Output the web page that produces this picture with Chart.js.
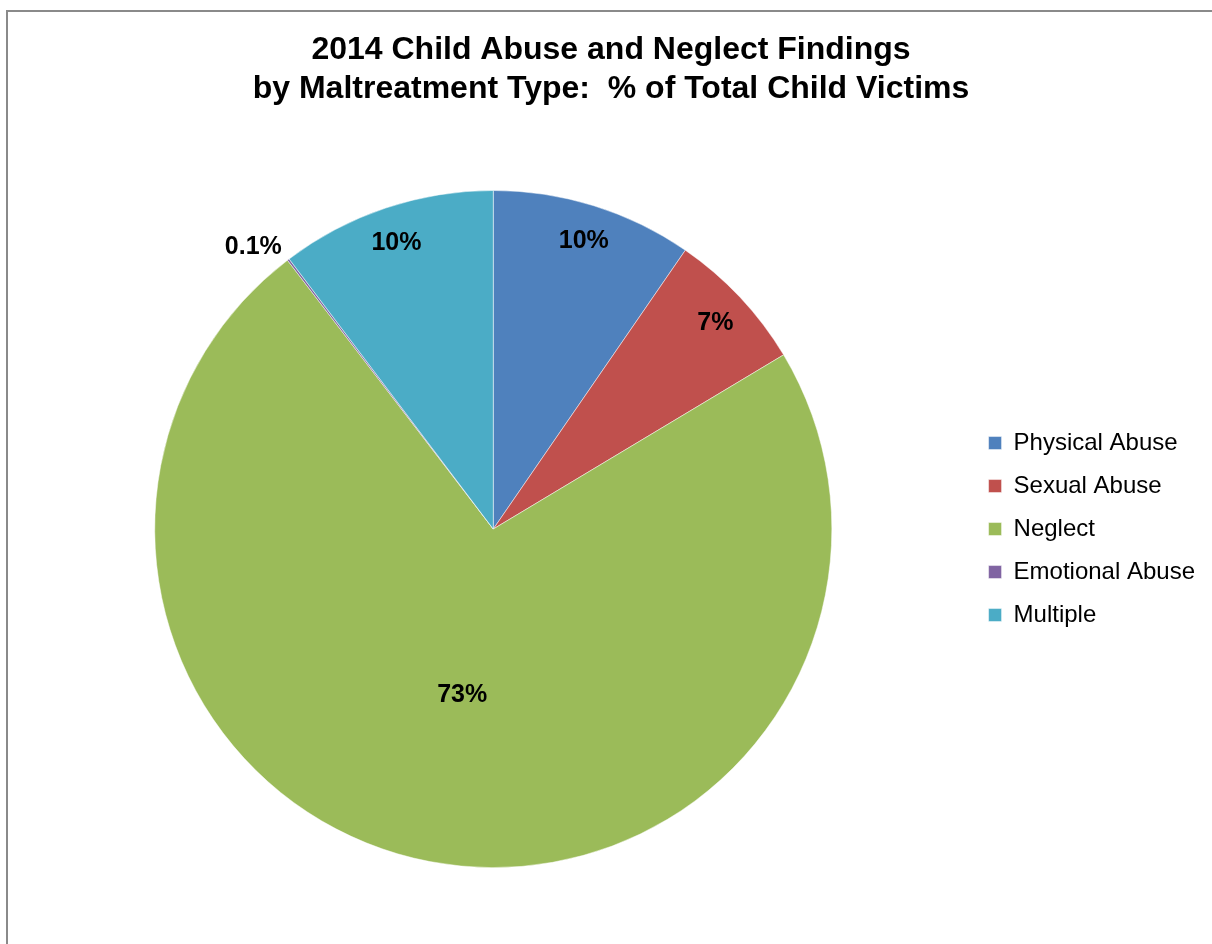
<!DOCTYPE html>
<html>
<head>
<meta charset="utf-8">
<script src="https://cdn.jsdelivr.net/npm/chart.js@4/dist/chart.umd.min.js"></script>
<style>
    html, body { margin: 0; padding: 0; background: #fff; overflow: hidden; }
    #frame { position: absolute; left: 6px; top: 10px; width: 1400px; height: 1100px; border: 2px solid #8a8a8a; }
    #wrap { position: absolute; left: 0; top: 0; width: 1212px; height: 944px; }
</style>
</head>
<body>
<div id="frame"></div>
<div id="wrap"><canvas id="pieChart"></canvas></div>
<script>
// Dati del grafico
const categories = ['Physical Abuse', 'Sexual Abuse', 'Neglect', 'Emotional Abuse', 'Multiple'];
const percentValues = [9.6, 6.8, 73.2, 0.1, 10.3];
const sliceColors = ['#4F81BD', '#C0504D', '#9BBB59', '#8064A2', '#4BACC6'];

// Etichette percentuali sulle fette
function formatPercent(v) {
    return (v < 1 ? v.toFixed(1) : Math.round(v)) + '%';
}

const sliceLabelsPlugin = {
    id: 'sliceLabels',
    afterDatasetsDraw(chart) {
        const ctx = chart.ctx;
        const meta = chart.getDatasetMeta(0);
        ctx.save();
        ctx.font = 'bold 25px "Liberation Sans", Arial, sans-serif';
        ctx.fillStyle = '#000';
        ctx.textAlign = 'center';
        ctx.textBaseline = 'middle';
        meta.data.forEach((arc, i) => {
            const v = percentValues[i];
            let mid = (arc.startAngle + arc.endAngle) / 2;
            let k = 0.9;
            if (v < 1) { k = 1.1; mid -= 0.05; }
            else if (v > 50) k = 0.49;
            const r = arc.outerRadius * k;
            ctx.fillText(formatPercent(v), arc.x + Math.cos(mid) * r, arc.y + Math.sin(mid) * r + 3);
        });
        ctx.restore();
    }
};

const canvasElement = document.getElementById('pieChart');
canvasElement.width = 1212;
canvasElement.height = 944;

new Chart(canvasElement.getContext('2d'), {
    type: 'pie',
    data: {
        labels: categories,
        datasets: [{
            data: percentValues,
            backgroundColor: sliceColors,
            borderColor: 'rgba(255,255,255,0.6)',
            borderWidth: 0.8
        }]
    },
    options: {
        responsive: false,
        animation: false,
        devicePixelRatio: 1,
        layout: { padding: { left: 17, right: 7, top: 0, bottom: 76 } },
        plugins: {
            title: {
                display: true,
                text: ['2014 Child Abuse and Neglect Findings', 'by Maltreatment Type:  % of Total Child Victims'],
                color: '#000',
                font: { family: '"Liberation Sans", Arial, sans-serif', size: 32, weight: 'bold', lineHeight: 1.22 },
                padding: { top: 31, bottom: 81 }
            },
            legend: {
                position: 'right',
                fullSize: false,
                labels: {
                    color: '#000',
                    boxWidth: 13,
                    boxHeight: 13,
                    padding: 19,
                    font: { family: '"Liberation Sans", Arial, sans-serif', size: 24 }
                }
            },
            tooltip: { enabled: false }
        }
    },
    plugins: [sliceLabelsPlugin]
});
</script>
</body>
</html>
